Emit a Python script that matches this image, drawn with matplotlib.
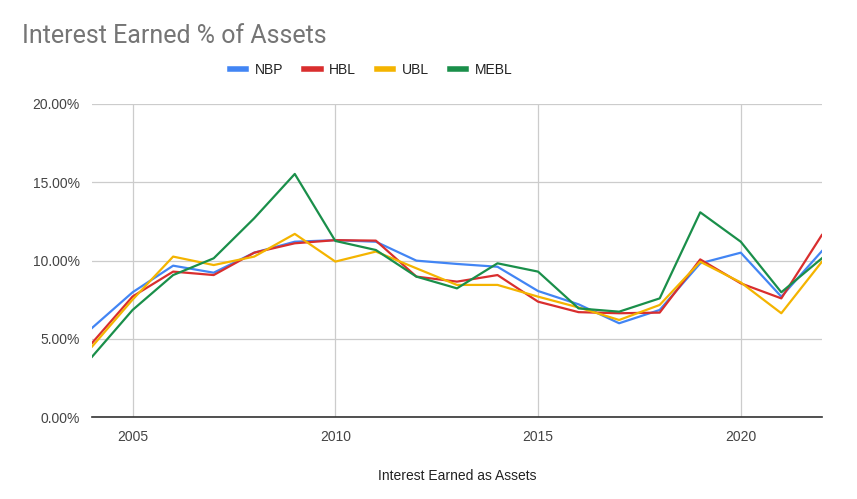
import numpy as np
import matplotlib
matplotlib.use("Agg")
import matplotlib.pyplot as plt
from matplotlib.ticker import FuncFormatter

years = list(range(2004, 2023))
nbp = [5.69, 7.97, 9.67, 9.22, 10.5, 11.2, 11.3, 11.2, 9.99, 9.78, 9.6, 8.05, 7.2, 5.99, 6.84, 9.82, 10.5, 7.69, 10.6]
hbl = [4.73, 7.7, 9.29, 9.07, 10.5, 11.1, 11.3, 11.27, 8.97, 8.65, 9.07, 7.37, 6.7, 6.63, 6.67, 10.07, 8.54, 7.58, 11.63]
ubl = [4.5, 7.5, 10.25, 9.71, 10.25, 11.7, 9.93, 10.57, 9.5, 8.44, 8.44, 7.69, 7.0, 6.2, 7.16, 9.92, 8.6, 6.63, 9.92]
mebl = [3.85, 6.84, 9.07, 10.14, 12.7, 15.53, 11.25, 10.67, 8.97, 8.22, 9.82, 9.29, 6.94, 6.73, 7.58, 13.08, 11.2, 7.97, 10.14]

series = [("NBP", nbp, "#4285F4"), ("HBL", hbl, "#D92E2E"),
          ("UBL", ubl, "#F4B400"), ("MEBL", mebl, "#1A8F4A")]

fig = plt.figure(figsize=(8.57, 4.99), dpi=100)
ax = fig.add_axes([0.1074, 0.1643, 0.8516, 0.6273])

for name, vals, col in series:
    ax.plot(years, vals, color=col, lw=1.6, label=name)

ax.set_xlim(2004, 2022)
ax.set_ylim(0, 20)
ax.set_xticks([2005, 2010, 2015, 2020])
ax.set_yticks([0, 5, 10, 15, 20])
ax.yaxis.set_major_formatter(FuncFormatter(lambda v, p: "%.2f%%" % v))
ax.grid(True, color="#cccccc", lw=0.9)
ax.set_axisbelow(True)
for s in ["top", "right", "left"]:
    ax.spines[s].set_visible(False)
ax.spines["bottom"].set_color("#333333")
ax.spines["bottom"].set_linewidth(1.2)
ax.tick_params(length=0, labelsize=10, labelcolor="#444444", pad=9)
for t in ax.get_xticklabels() + ax.get_yticklabels():
    t.set_family("Liberation Sans")

ax.set_xlabel("Interest Earned as Assets", fontsize=10, color="#222222",
              family="Liberation Sans", labelpad=18)

fig.text(0.026, 0.913, "Interest Earned % of Assets", fontsize=18,
         color="#757575", family="Roboto", va="baseline")

fig.legend(loc="center", bbox_to_anchor=(0.433, 0.86), ncol=4, frameon=False,
           handlelength=1.2, handletextpad=0.6, columnspacing=1.5,
           prop={"family": "Liberation Sans", "size": 10},
           labelcolor="#222222")
for h in fig.legends[0].get_lines():
    h.set_linewidth(4)

fig.savefig("out.png", dpi=100, facecolor="white")
